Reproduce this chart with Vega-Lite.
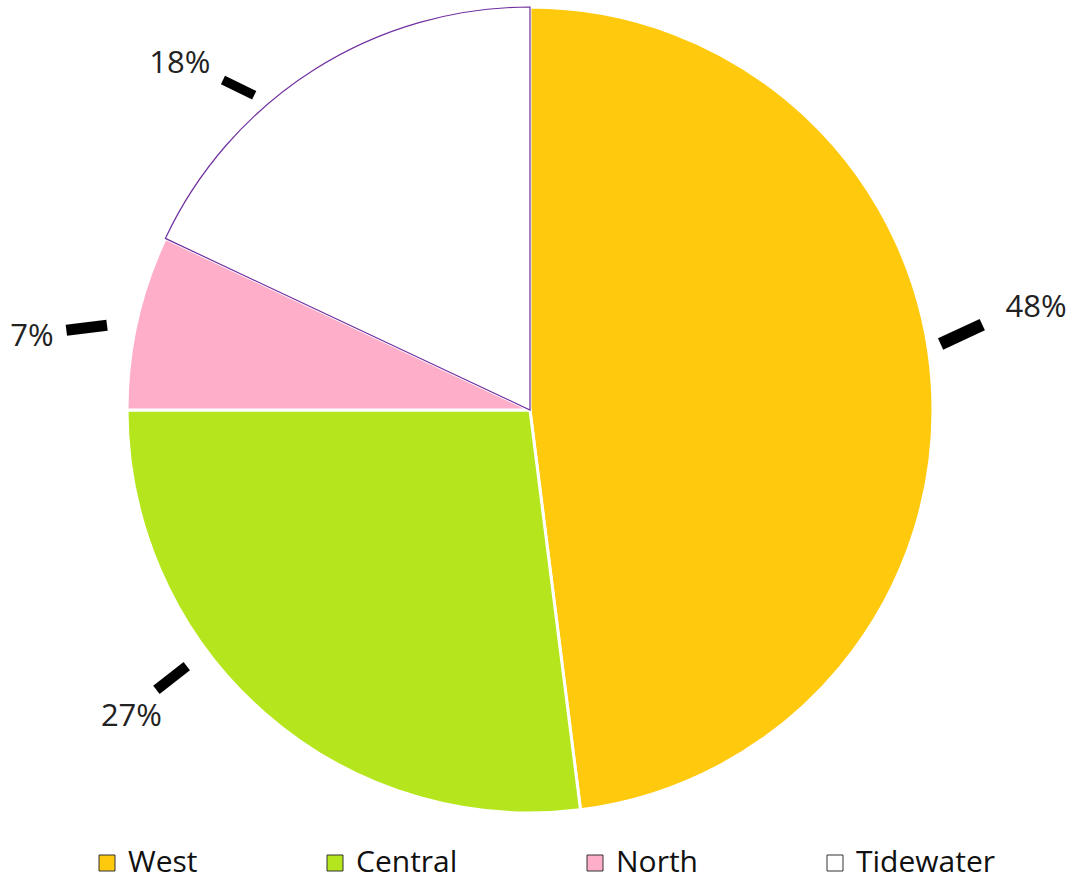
{
  "$schema": "https://vega.github.io/schema/vega-lite/v6.json",
  "width": 1060,
  "height": 820,
  "padding": {"left": 0, "top": 0, "right": 10, "bottom": 58},
  "autosize": {"type": "none"},
  "background": "#ffffff",
  "config": {"view": {"stroke": null}},
  "data": {"values": [
    {"region": "West", "share": 0.48, "rank": 1},
    {"region": "Central", "share": 0.27, "rank": 2},
    {"region": "North", "share": 0.07, "rank": 3},
    {"region": "Tidewater", "share": 0.18, "rank": 4}
  ]},
  "encoding": {
    "theta": {"field": "share", "type": "quantitative", "stack": true},
    "order": {"field": "rank", "type": "quantitative"}
  },
  "layer": [
    {
      "mark": {"type": "arc", "outerRadius": 403},
      "encoding": {
        "color": {
          "field": "region", "type": "nominal",
          "scale": {"domain": ["West", "Central", "North", "Tidewater"], "range": ["#FFC90E", "#B5E61D", "#FFAEC9", "#FFFFFF"]},
          "legend": {
            "orient": "none", "legendX": 92, "legendY": 848, "direction": "horizontal",
            "title": null, "symbolType": "square", "symbolSize": 256,
            "labelFont": "Open Sans", "labelFontSize": 30, "labelColor": "#111",
            "labelOffset": 6, "columnPadding": 122, "padding": 0,
            "symbolStrokeColor": "#333", "symbolStrokeWidth": 1
          }
        },
        "stroke": {"condition": {"test": "datum.region === 'Tidewater'", "value": "#7030A0"}, "value": "#ffffff"},
        "strokeWidth": {"condition": {"test": "datum.region === 'Tidewater'", "value": 1.2}, "value": 3}
      }
    },
    {
      "mark": {"type": "text", "radius": 450, "dx": 57, "dy": -74, "font": "Open Sans", "fontSize": 31, "align": "center", "baseline": "middle", "color": "#222"},
      "encoding": {"detail": {"field": "region"}, "text": {"field": "share", "format": ".0%"}, "opacity": {"condition": {"test": "datum.region === 'West'", "value": 1}, "value": 0}}
    },
    {
      "mark": {"type": "text", "radius": 450, "dx": -101, "dy": -31, "font": "Open Sans", "fontSize": 31, "align": "center", "baseline": "middle", "color": "#222"},
      "encoding": {"detail": {"field": "region"}, "text": {"field": "share", "format": ".0%"}, "opacity": {"condition": {"test": "datum.region === 'Central'", "value": 1}, "value": 0}}
    },
    {
      "mark": {"type": "text", "radius": 450, "dx": -59, "dy": 25, "font": "Open Sans", "fontSize": 31, "align": "center", "baseline": "middle", "color": "#222"},
      "encoding": {"detail": {"field": "region"}, "text": {"field": "share", "format": ".0%"}, "opacity": {"condition": {"test": "datum.region === 'North'", "value": 1}, "value": 0}}
    },
    {
      "mark": {"type": "text", "radius": 450, "dx": -109, "dy": 34, "font": "Open Sans", "fontSize": 31, "align": "center", "baseline": "middle", "color": "#222"},
      "encoding": {"detail": {"field": "region"}, "text": {"field": "share", "format": ".0%"}, "opacity": {"condition": {"test": "datum.region === 'Tidewater'", "value": 1}, "value": 0}}
    },
    {
      "mark": {"type": "text", "text": "━", "radius": 450, "dx": 4, "dy": -47, "angle": 335, "font": "DejaVu Sans", "fontSize": 74, "align": "center", "baseline": "middle", "color": "#000"},
      "encoding": {"detail": {"field": "region"}, "opacity": {"condition": {"test": "datum.region === 'West'", "value": 1}, "value": 0}}
    },
    {
      "mark": {"type": "text", "text": "━", "radius": 450, "dx": -5, "dy": -90, "angle": 322, "font": "DejaVu Sans", "fontSize": 62, "align": "center", "baseline": "middle", "color": "#000"},
      "encoding": {"detail": {"field": "region"}, "opacity": {"condition": {"test": "datum.region === 'Central'", "value": 1}, "value": 0}}
    },
    {
      "mark": {"type": "text", "text": "━", "radius": 450, "dx": -6, "dy": 18, "angle": 353, "font": "DejaVu Sans", "fontSize": 66, "align": "center", "baseline": "middle", "color": "#000"},
      "encoding": {"detail": {"field": "region"}, "opacity": {"condition": {"test": "datum.region === 'North'", "value": 1}, "value": 0}}
    },
    {
      "mark": {"type": "text", "text": "━", "radius": 450, "dx": -20, "dy": 76, "angle": 26, "font": "DejaVu Sans", "fontSize": 56, "align": "center", "baseline": "middle", "color": "#000"},
      "encoding": {"detail": {"field": "region"}, "opacity": {"condition": {"test": "datum.region === 'Tidewater'", "value": 1}, "value": 0}}
    }
  ]
}
